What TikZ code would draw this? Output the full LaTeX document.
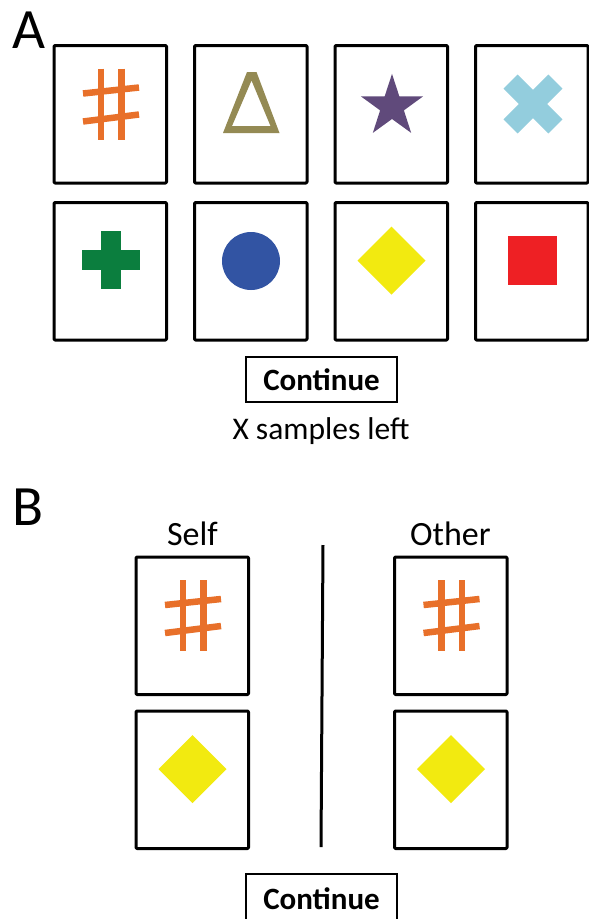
\documentclass[tikz,border=0pt]{standalone}
\usepackage{fontspec}
\setmainfont{Carlito}
\definecolor{hashc}{HTML}{E8702A}
\definecolor{tric}{HTML}{948A54}
\definecolor{starc}{HTML}{604A7B}
\definecolor{xc}{HTML}{93CDDD}
\definecolor{plusc}{HTML}{0B7E3E}
\definecolor{circc}{HTML}{3254A3}
\definecolor{diac}{HTML}{F2EA10}
\definecolor{sqc}{HTML}{EE2024}
\newcommand\mkHash{%
  \draw[hashbar] (47,23) -- (47,94);
  \draw[hashbar] (67.5,23) -- (67.5,94);
  \draw[hashbar] (29,48) -- (85,42);
  \draw[hashbar] (29,76) -- (85,69);}
\newcommand\mkDiamond{%
  \fill[diac] (56.5,24) -- (90.5,58) -- (56.5,92) -- (22.5,58) -- cycle;}
\begin{document}
\begin{tikzpicture}[x=1pt,y=-1pt,
  card/.style={draw=black, line width=3pt, minimum width=112.5pt, minimum height=137.5pt,
    inner sep=0pt, outer sep=0pt, anchor=north west, line join=round, rounded corners=1pt},
  btn/.style={draw=black, line width=2.6pt, minimum width=151pt, minimum height=45pt,
    inner sep=0pt, font=\fontsize{31}{36}\selectfont\bfseries},
  lbl/.style={inner sep=0pt, anchor=base, font=\fontsize{31.5}{37}\selectfont},
  head/.style={inner sep=0pt, anchor=base, font=\fontsize{34}{40}\selectfont},
  panel/.style={inner sep=0pt, anchor=base west, font=\fontsize{57}{68}\selectfont},
  hashbar/.style={draw=hashc, line width=6.5pt}]
\useasboundingbox (0,0) rectangle (589,919);
\fill[white] (0,0) rectangle (589,919);
% panel A
\node[panel] (labA) at (12.5,48) {A};
\node[card] (a1) at (54,45.5) {};
\node[card] (a2) at (194.5,45.5) {};
\node[card] (a3) at (335,45.5) {};
\node[card] (a4) at (475.5,45.5) {};
\node[card] (a5) at (54,202.5) {};
\node[card] (a6) at (194.5,202.5) {};
\node[card] (a7) at (335,202.5) {};
\node[card] (a8) at (475.5,202.5) {};
\begin{scope}[shift={(a1.north west)}]\mkHash\end{scope}
\begin{scope}[shift={(a2.north west)}]
  \fill[tric, even odd rule] (28.5,87.5) -- (85,87.5) -- (62,26.5) -- (52.5,26.5) -- cycle
    (37.5,80.5) -- (76,80.5) -- (57,35) -- cycle;
\end{scope}
\begin{scope}[shift={(a3.north west)}]
  \begin{scope}[shift={(57,61)}]
  \fill[starc] (-90:32.6) -- (-54:12.5) -- (-18:32.6) -- (18:12.5) -- (54:32.6) -- (90:12.5)
    -- (126:32.6) -- (162:12.5) -- (198:32.6) -- (234:12.5) -- cycle;
  \end{scope}
\end{scope}
\begin{scope}[shift={(a4.north west)}]
  \draw[xc, line width=20pt] (35.1,36.1) -- (79.9,80.9);
  \draw[xc, line width=20pt] (35.1,80.9) -- (79.9,36.1);
\end{scope}
\begin{scope}[shift={(a5.north west)}]
  \fill[plusc] (47,28.5) rectangle (67,86.5);
  \fill[plusc] (28,47.5) rectangle (86,67.5);
\end{scope}
\begin{scope}[shift={(a6.north west)}]
  \fill[circc] (56.5,58.5) circle[radius=29pt];
\end{scope}
\begin{scope}[shift={(a7.north west)}]\mkDiamond\end{scope}
\begin{scope}[shift={(a8.north west)}]
  \fill[sqc] (32.5,33.5) rectangle (81.5,82.5);
\end{scope}
\node[btn] (contA) at (321.5,379.5) {Continue};
\node[lbl] (left) at (321,439) {X samples left};
% panel B
\node[panel] (labB) at (12,525) {B};
\node[head] (self) at (192.5,545) {Self};
\node[head] (other) at (450.5,545) {Other};
\node[card] (s1) at (136,557) {};
\node[card] (s2) at (136,711) {};
\node[card] (o1) at (394.5,557) {};
\node[card] (o2) at (394.5,711) {};
\begin{scope}[shift={(s1.north west)}]\mkHash\end{scope}
\begin{scope}[shift={(o1.north west)}]\mkHash\end{scope}
\begin{scope}[shift={(s2.north west)}]\mkDiamond\end{scope}
\begin{scope}[shift={(o2.north west)}]\mkDiamond\end{scope}
\coordinate (dtop) at (323,545);
\coordinate (dbot) at (321,847);
\draw[line width=3pt] (dtop) -- (dbot);
\node[btn, minimum height=49pt] (contB) at (321.5,898.5) {Continue};
\end{tikzpicture}
\end{document}
